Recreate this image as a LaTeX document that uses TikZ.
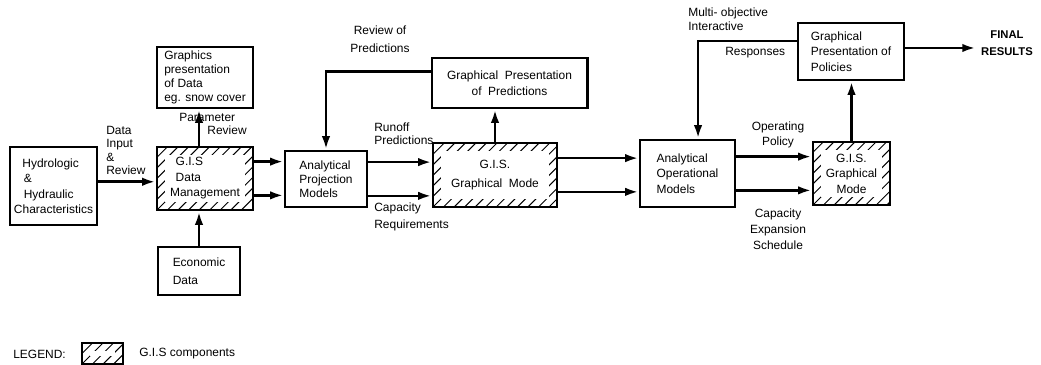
\documentclass[tikz,border=0pt]{standalone}
\usepackage{fontspec}
\setmainfont{Liberation Sans}
\usetikzlibrary{arrows.meta}
\tikzset{> = {Latex[length=9.5pt,width=6pt]}, every picture/.style={line width=1.9pt}}
\tikzset{
  box/.style={draw, line width=2.1pt, inner sep=2pt, font=\fontsize{8.5}{10}\selectfont},
  gis/.style={box, path picture={
      \begin{scope}[line width=0.7pt]
      \foreach \k in {0,...,24}
        \draw ([xshift={\k*7.5pt-60pt}]path picture bounding box.south west) -- ++(60pt,60pt);
      \end{scope}
      \fill[white] ([shift={(5.5pt,5.5pt)}]path picture bounding box.south west)
        rectangle ([shift={(-5.5pt,-5.5pt)}]path picture bounding box.north east);
    }},
  lbl/.style={inner sep=0pt, font=\fontsize{8.5}{9.5}\selectfont}
}

\begin{document}
\begin{tikzpicture}[x=0.025cm, y=-0.025cm]
\useasboundingbox (0,0) rectangle (1041,365);

% boxes
\node[box, minimum width=2.175cm, minimum height=1.95cm, align=left, font=\fontsize{8.5}{11}\selectfont] (hydro) at (53.5,186)
  {\hspace*{6pt}Hydrologic\\\hspace*{7pt}\&\\\hspace*{7pt}Hydraulic\\Characteristics};
\node[box, minimum width=2.4cm, minimum height=1.525cm, align=left] (gpdata) at (205,77.5)
  {Graphics\\presentation\\of Data\\eg. snow cover};
\node[gis, minimum width=2.4cm, minimum height=1.575cm, align=left, font=\fontsize{8.5}{11}\selectfont] (gisdm) at (205,178.5)
  {\hspace*{4pt}G.I.S\\\hspace*{4pt}Data\\Management};
\node[box, minimum width=2.05cm, minimum height=1.2cm, align=left, font=\fontsize{8.5}{13}\selectfont] (econ) at (199,271)
  {Economic\\Data};
\node[box, minimum width=2.05cm, minimum height=1.4cm, align=left] (apm) at (326,179)
  {Analytical\\Projection\\Models};
\node[box, minimum width=3.875cm, minimum height=1.25cm, align=center, font=\fontsize{8.5}{11}\selectfont] (gppred) at (509.5,83)
  {Graphical\ \ Presentation\\of\ \ Predictions};
\node[gis, minimum width=3.1cm, minimum height=1.6cm, align=center, font=\fontsize{8.5}{13}\selectfont] (gisgm1) at (495,175)
  {G.I.S.\\Graphical\ \ Mode};
\node[box, minimum width=2.375cm, minimum height=1.675cm, align=left, font=\fontsize{8.5}{11}\selectfont] (aom) at (687.5,173.5)
  {Analytical\\Operational\\Models};
\node[gis, minimum width=1.925cm, minimum height=1.575cm, align=center, font=\fontsize{8.5}{11}\selectfont] (gisgm2) at (851.5,173.5)
  {G.I.S.\\Graphical\\Mode};
\node[box, minimum width=2.65cm, minimum height=1.425cm, align=left, font=\fontsize{8.5}{11}\selectfont] (gppol) at (851,51.5)
  {Graphical\\Presentation of\\Policies};
\node[lbl, align=center, font=\fontsize{8}{12}\selectfont\bfseries] (final) at (1007,43) {FINAL\\RESULTS};

% labels
\node[lbl, anchor=north west, align=left] (ldata) at (105,125) {Data\\Input\\\&\\Review};
\node[lbl, anchor=south west, align=left] (lparam) at (178,136) {Parameter\\\hspace*{20pt}Review};
\node[lbl, align=center, font=\fontsize{8.5}{12.5}\selectfont] (lreview) at (380,39) {Review of\\Predictions};
\node[lbl, anchor=south west, align=left] (lrunoff) at (373,146) {Runoff\\Predictions};
\node[lbl, anchor=north west, align=left, font=\fontsize{8.5}{11.5}\selectfont] (lcapreq) at (373,202) {Capacity\\Requirements};
\node[lbl, anchor=north west, align=left] (lmulti) at (687,7) {Multi- objective\\Interactive};
\node[lbl, anchor=west] (lresp) at (724,53) {Responses};
\node[lbl, align=center, font=\fontsize{8.5}{11}\selectfont] (loper) at (778,135) {Operating\\Policy};
\node[lbl, align=center, font=\fontsize{8.5}{11.5}\selectfont] (lcapexp) at (778,229) {Capacity\\Expansion\\Schedule};

% legend
\node[lbl, anchor=west] (legend) at (12,354) {LEGEND:};
\node[gis, minimum width=1.025cm, minimum height=0.525cm, inner sep=0pt, line width=1.8pt] (legbox) at (102.5,353.5) {};
\node[lbl, anchor=west] (leggis) at (138,354) {G.I.S components};

% connectors
\draw[->] ([yshift=3pt]hydro.east) -- ([yshift=3pt]hydro.east -| gisdm.west);
\draw[->] (gisdm.north -| econ) -- (gpdata.south -| econ);
\draw[->] (econ.north) -- (econ.north |- gisdm.south);
\draw[->] ([yshift=12pt]gisdm.east) -- ([yshift=12pt]gisdm.east -| apm.west);
\draw[->] ([yshift=-12pt]gisdm.east) -- ([yshift=-12pt]gisdm.east -| apm.west);
\draw[->] ([yshift=12pt]apm.east) -- ([yshift=12pt]apm.east -| gisgm1.west);
\draw[->] ([yshift=-12pt]apm.east) -- ([yshift=-12pt]apm.east -| gisgm1.west);
\draw[->] (gisgm1.north) -- (gisgm1.north |- gppred.south);
\draw[->] ([yshift=8pt]gppred.west) -| (apm.north);
\draw[->] ([yshift=12pt]gisgm1.east) -- ([yshift=12pt]gisgm1.east -| aom.west);
\draw[->] ([yshift=-12pt]gisgm1.east) -- ([yshift=-12pt]gisgm1.east -| aom.west);
\draw[->] ([yshift=12pt]aom.east) -- ([yshift=12pt]aom.east -| gisgm2.west);
\draw[->] ([yshift=-12pt]aom.east) -- ([yshift=-12pt]aom.east -| gisgm2.west);
\draw[->] (gisgm2.north) -- (gisgm2.north |- gppol.south);
\draw[->] ([yshift=7.5pt]gppol.west) -| ([xshift=7.5pt]aom.north);
\draw[->] ([yshift=2.5pt]gppol.east) -- ([yshift=2.5pt,xshift=-3pt]gppol.east -| final.west);
\end{tikzpicture}
\end{document}
